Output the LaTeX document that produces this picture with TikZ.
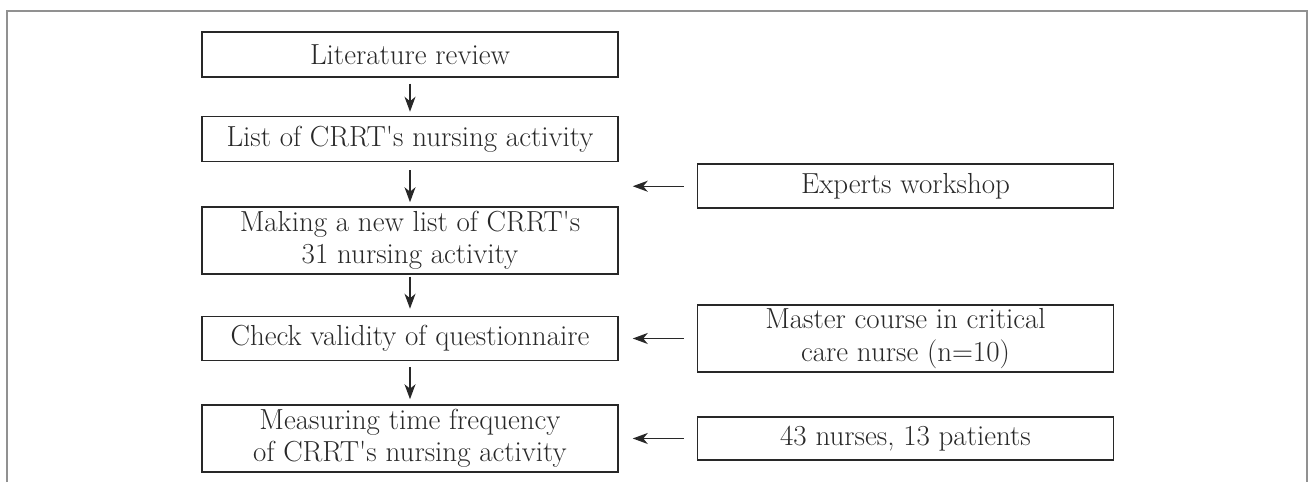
\documentclass[tikz,border=0pt]{standalone}
\usepackage{tikz}
\usepackage{xcolor}
\usetikzlibrary{positioning, arrows.meta}
\definecolor{inkgray}{RGB}{40, 40, 40}
\definecolor{framegray}{RGB}{145, 145, 145}

\begin{document}
\begin{tikzpicture}[
    font=\fontsize{16.5}{18.5}\selectfont,
    stepbox/.style={rectangle, draw=inkgray, line width=0.85pt, text=inkgray,
                    minimum width=8.32cm, minimum height=0.9cm,
                    inner ysep=1pt, align=center},
    tallbox/.style={stepbox, minimum height=1.34cm},
    flow/.style={-{Stealth[length=0.3cm, width=0.22cm, inset=0.09cm]},
                 draw=inkgray, line width=0.75pt},
    feed/.style={flow, shorten <=0.26cm, shorten >=0.28cm}
]
\useasboundingbox (0,0) rectangle (26.18,-9.64);

% Outer frame (open at the bottom)
\coordinate (fbl) at (0.14,-9.64);
\coordinate (ftl) at (0.14,-0.22);
\coordinate (ftr) at (26.14,-0.22);
\coordinate (fbr) at (26.14,-9.64);
\draw[framegray, line width=1.2pt] (fbl) -- (ftl) -- (ftr) -- (fbr);

% Main steps
\node[stepbox] (lit) at (8.2,-1.09) {Literature review};
\node[stepbox, below=0.76cm of lit] (list)
      {List of CRRT\textquotesingle s nursing activity};
\node[tallbox, below=0.88cm of list] (newlist)
      {Making a new list of CRRT\textquotesingle s\\ 31 nursing activity};
\node[stepbox, minimum height=0.88cm, below=0.82cm of newlist] (check)
      {Check validity of questionnaire};
\node[tallbox, below=0.86cm of check] (measure)
      {Measuring time frequency\\ of CRRT\textquotesingle s nursing activity};

% Inputs on the right
\node[stepbox, minimum height=0.88cm, anchor=west] (experts)
      at ([xshift=1.56cm, yshift=-0.48cm]list.south east) {Experts workshop};
\node[tallbox, right=1.56cm of check] (master)
      {Master course in critical\\ care nurse (n=10)};
\node[stepbox, minimum height=0.86cm, right=1.56cm of measure] (sample)
      {43 nurses, 13 patients};

% Arrows
\draw[flow, shorten <=0.12cm, shorten >=0.08cm] (lit) -- (list);
\draw[flow, shorten <=0.16cm, shorten >=0.08cm] (list) -- (newlist);
\draw[flow, shorten <=0.04cm, shorten >=0.14cm] (newlist) -- (check);
\draw[flow, shorten <=0.12cm, shorten >=0.1cm] (check) -- (measure);

\draw[feed] (experts.west) -- (experts.west -| list.east);
\draw[feed] (master.west) -- (check.east);
\draw[feed] (sample.west) -- (measure.east);

\end{tikzpicture}
\end{document}
